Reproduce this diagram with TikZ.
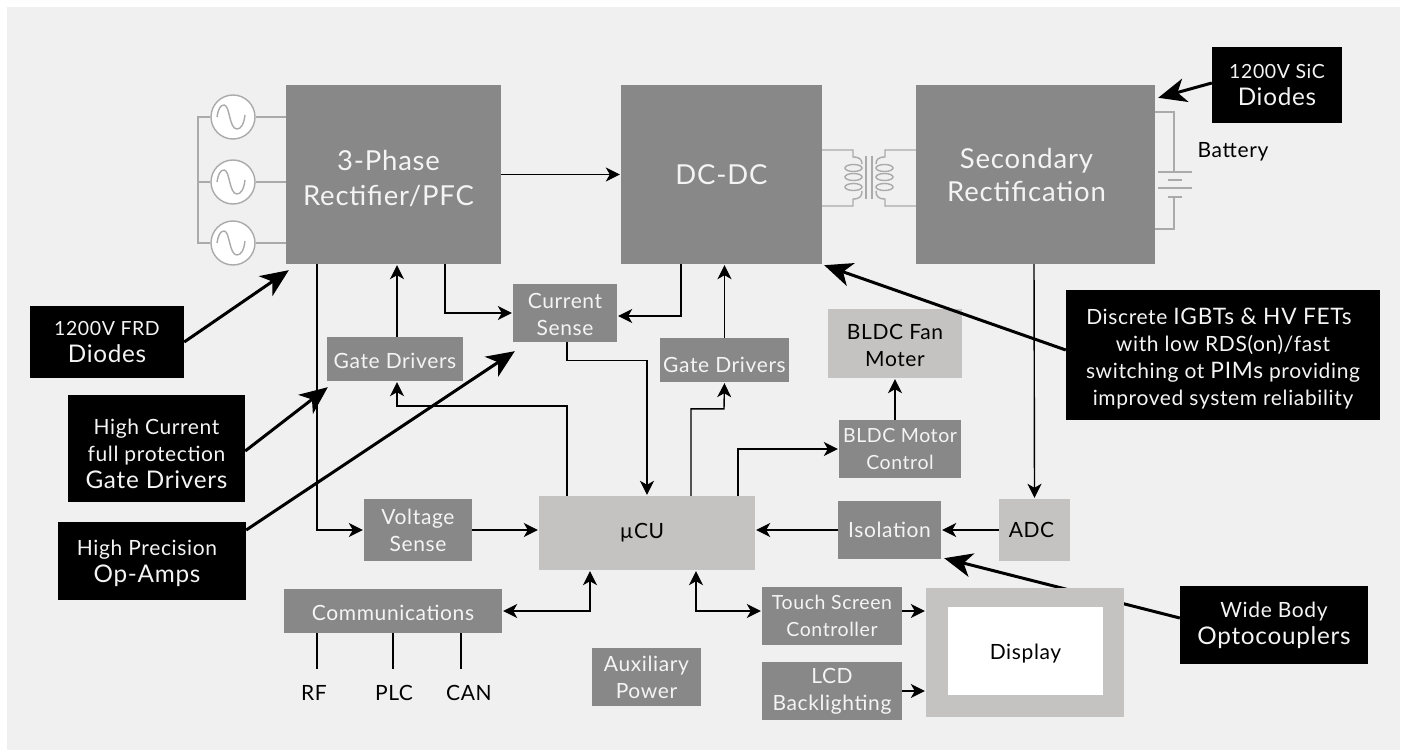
\documentclass[tikz,border=0pt]{standalone}
\usepackage{fontspec}
\setmainfont[LetterSpace=3]{Lato}
\usetikzlibrary{arrows.meta}

\definecolor{panelgray}{HTML}{F0F0F0}
\definecolor{blockgray}{HTML}{888888}
\definecolor{lightgray}{HTML}{C4C3C1}
\definecolor{wiregray}{HTML}{AAAAAA}
\definecolor{labelwhite}{HTML}{F4F4F4}

\newcommand{\sizeL}{\fontsize{27.5}{35}\selectfont}
\newcommand{\sizeM}{\fontsize{24.3}{29}\selectfont}
\newcommand{\sizeH}{\fontsize{22.7}{29}\selectfont}
\newcommand{\sizeS}{\fontsize{21}{27}\selectfont}
\newcommand{\sizeT}{\fontsize{19.5}{27}\selectfont}
\newcommand{\drop}[1]{\rule{0pt}{#1pt}}
\newcommand{\nudge}[1]{\hspace*{#1pt}}

\tikzset{
    block/.style={fill=blockgray,text=labelwhite,inner sep=0pt,align=center,font=\sizeS},
    lightblock/.style={fill=lightgray,text=black,inner sep=0pt,align=center,font=\sizeS},
    note/.style={fill=black,text=labelwhite,inner sep=0pt,align=center,font=\sizeS},
    wire/.style={line width=1.4pt,black,-{Stealth[length=14pt,width=14pt,inset=4pt]},shorten >=1pt},
    bothwire/.style={line width=1.4pt,black,{Stealth[length=14pt,width=14pt,inset=4pt]}-{Stealth[length=14pt,width=14pt,inset=4pt]},shorten >=1pt,shorten <=1pt},
    stub/.style={line width=1.4pt,black},
    pointer/.style={line width=3pt,black,-{Stealth[length=28pt,width=24pt,inset=8pt]}},
    symbol/.style={line width=1.4pt,wiregray},
    plainlabel/.style={inner sep=0pt,font=\sizeS,text=black},
}

\begin{document}
\begin{tikzpicture}[x=1pt,y=-1pt]
    \useasboundingbox (0,0) rectangle (1407,751);
    \fill[panelgray] (7,7) rectangle (1400,750);

    % power stage
    \node[block,font=\sizeL,minimum width=215pt,minimum height=179pt] (rectifier) at (393.5,174.5) {\drop{29}3-Phase\nudge{10}\\Rectifier/PFC\nudge{10}};
    \node[block,font=\sizeL,minimum width=201pt,minimum height=179pt] (dcdc) at (721.5,174.5) {DC-DC};
    \node[block,font=\sizeL,minimum width=239pt,minimum height=179pt] (secondary) at (1035.5,174.5) {Secondary\nudge{18}\\[-2pt]Rectification\nudge{18}};

    % sensing and drivers
    \node[block,minimum width=104pt,minimum height=58pt] (currentsense) at (565,313) {\drop{19}Current\\Sense};
    \node[block,minimum width=136pt,minimum height=44pt] (gateleft) at (395,359) {\drop{20}Gate Drivers};
    \node[block,minimum width=129pt,minimum height=44pt] (gateright) at (724.5,360) {\drop{26}Gate Drivers};
    \node[block,minimum width=108pt,minimum height=62pt] (voltagesense) at (418,530) {Voltage\\Sense};
    \node[block,font=\sizeT,minimum width=122pt,minimum height=58pt] (motorcontrol) at (900,449) {BLDC Motor\\Control};
    \node[lightblock,minimum width=134pt,minimum height=69pt] (fanmotor) at (895,343.5) {\drop{20}BLDC Fan\\Moter};
    \node[lightblock,minimum width=216pt,minimum height=74pt] (mcu) at (647,533) {µCU\nudge{10}};
    \node[block,minimum width=103pt,minimum height=58pt] (isolation) at (889.5,530) {Isolation};
    \node[lightblock,minimum width=71pt,minimum height=62pt] (adc) at (1034.5,530) {ADC\nudge{6}};

    % lower row
    \node[block,minimum width=218pt,minimum height=44pt] (comms) at (393,611) {\drop{20}Communications};
    \node[block,minimum width=109pt,minimum height=58pt] (auxpower) at (646.5,677) {Auxiliary\\Power};
    \node[block,font=\sizeT,minimum width=140pt,minimum height=58pt] (touch) at (832,616) {Touch Screen\\Controller};
    \node[block,minimum width=140pt,minimum height=58pt] (backlight) at (832,691) {LCD\\Backlighting};
    \node[plainlabel] (rf) at (314,693) {RF};
    \node[plainlabel] (plc) at (394,693) {PLC};
    \node[plainlabel] (can) at (469,693) {CAN};
    \node[plainlabel] (battery) at (1233,152) {Battery};

    % black call-outs
    \node[note,minimum width=154pt,minimum height=72pt] (frdnote) at (107,342) {{\sizeT 1200V FRD}\\{\sizeM Diodes}};
    \node[note,minimum width=177pt,minimum height=107pt] (hcnote) at (156.5,448.5) {\drop{27}High Current\\full protection\\{\sizeM Gate Drivers}};
    \node[note,minimum width=188pt,minimum height=78pt] (hpnote) at (152,561) {\drop{20}High Precision\nudge{10}\\{\sizeM Op-Amps}\nudge{10}};
    \node[note,minimum width=130pt,minimum height=76pt] (sicnote) at (1277,85) {{\sizeT 1200V SiC}\\{\sizeM Diodes}};
    \node[note,minimum width=314pt,minimum height=130pt] (fetnote) at (1223,355) {\drop{24}Discrete {\sizeH IGBTs \& HV FETs}\nudge{8}\\with low RDS(on)/fast\\switching ot {\sizeH PIMs} providing\\improved system reliability};
    \node[note,minimum width=188pt,minimum height=78pt] (widenote) at (1274,625) {Wide Body\\{\sizeM Optocouplers}};

    % the optocoupler pointer runs behind the display
    \draw[pointer] (widenote.west |- 0,618) -- ([xshift=3pt,yshift=1pt]isolation.south east);
    \node[lightblock,minimum width=198pt,minimum height=129pt] (displayframe) at (1025,652.5) {};
    \node[fill=white,inner sep=0pt,font=\sizeS,minimum width=155pt,minimum height=88pt] (display) at (1025.5,651) {\drop{21}Display};

    % connectors
    \draw[wire] (rectifier) -- (dcdc);
    \draw[wire] ([xshift=-76.5pt]rectifier.south) |- (voltagesense.west);
    \draw[wire] ([xshift=51.5pt]rectifier.south) |- (currentsense.west);
    \draw[wire] ([xshift=2pt]gateleft.north) -- ([xshift=3.5pt]rectifier.south);
    \draw[wire] ([xshift=-40.5pt]dcdc.south) |- ([yshift=-3pt]currentsense.east);
    \draw[wire] (gateright.north) -- ([xshift=3pt]dcdc.south);
    \draw[wire] ([xshift=2pt]currentsense.south) -- ++(0,18) -| (mcu.north);
    \draw[wire] ([xshift=-80pt]mcu.north) |- ++(-170,-90) -- ([xshift=2pt]gateleft.south);
    \draw[wire] ([xshift=44pt]mcu.north) |- ++(33,-87) -- (gateright.south);
    \draw[wire] ([xshift=91pt]mcu.north) |- (motorcontrol.west);
    \draw[wire] ([xshift=-5pt]motorcontrol.north) -- (fanmotor.south);
    \draw[wire] ([xshift=-1.5pt]secondary.south) -- (adc.north);
    \draw[wire] (adc) -- (isolation);
    \draw[wire] (isolation.west) -- (mcu.east |- isolation.west);
    \draw[wire] (voltagesense.east) -- (mcu.west |- voltagesense.east);
    \draw[bothwire] (comms.east) -| ([xshift=-57pt]mcu.south);
    \draw[bothwire] ([xshift=49pt]mcu.south) |- (touch.west |- comms.east);
    \draw[wire] (touch.east |- comms.east) -- (displayframe.west |- comms.east);
    \draw[wire] (backlight.east) -- (displayframe.west |- backlight.east);
    \draw[stub] (comms.south -| rf) ++(3,0) -- ++(0,36);
    \draw[stub] (comms.south -| plc) ++(-1,0) -- ++(0,36);
    \draw[stub] (comms.south -| can) ++(-8,0) -- ++(0,36);

    % call-out pointers
    \draw[pointer] (frdnote.east) -- ([xshift=3pt,yshift=-6pt]rectifier.south west);
    \draw[pointer] (hcnote.east |- 0,451) -- ([xshift=1pt,yshift=-6pt]gateleft.south west);
    \draw[pointer] (hpnote.east |- 0,530) -- ([xshift=2pt,yshift=-9pt]currentsense.south west);
    \draw[pointer] (sicnote.west |- 0,83) -- ([xshift=3pt,yshift=-13pt]secondary.north east);
    \draw[pointer] (fetnote.west |- 0,350) -- ([xshift=2pt,yshift=-1pt]dcdc.south east);

    % three-phase sources
    \foreach \i/\ypos in {1/117,2/182,3/243} {
        \node[circle,draw=wiregray,line width=1.4pt,fill=white,minimum size=44pt,inner sep=0pt] (ac\i) at (233,\ypos) {};
        \draw[symbol] (ac\i.east) -- (rectifier.west |- ac\i.east);
        \begin{scope}[shift={(233,\ypos)}]
            \draw[symbol] (-16,0) .. controls (-15,-7) and (-13,-12) .. (-9,-12) .. controls (-3,-12) and (-4,12) .. (4,12) .. controls (8,12) and (11,7) .. (12,-2);
        \end{scope}
    }
    \draw[symbol] (ac1.west) -- (198,117) -- (198,243) -- (ac3.west);
    \draw[symbol] (198,182) -- (ac2.west);

    % transformer
    \draw[symbol] (866,156) -- (866,199);
    \draw[symbol] (872,156) -- (872,199);
    \foreach \xpos/\side in {0/1,1738/-1} {
        \begin{scope}[shift={(\xpos,0)},xscale=\side]
            \draw[symbol] (822,150) -- (853,150) -- (853,157) .. controls (860,157) and (862,160) .. (862,164);
            \draw[symbol] (853.5,168) ellipse (8.5 and 3.5);
            \draw[symbol] (853.5,177) ellipse (8.5 and 3.5);
            \draw[symbol] (853.5,187) ellipse (8.5 and 3.5);
            \draw[symbol] (862,191) .. controls (862,196) and (860,199) .. (853,199) -- (853,206) -- (822,206);
        \end{scope}
    }

    % battery
    \draw[symbol] (secondary.east |- 0,112) -- (1174,112) -- (1174,172);
    \draw[symbol] (1158,172) -- (1192,172);
    \draw[symbol] (1168,180) -- (1182,180);
    \draw[symbol] (1158,188) -- (1192,188);
    \draw[symbol] (1168,197) -- (1182,197);
    \draw[symbol] (1174,197) -- (1174,229) -- (secondary.east |- 0,229);
\end{tikzpicture}
\end{document}
